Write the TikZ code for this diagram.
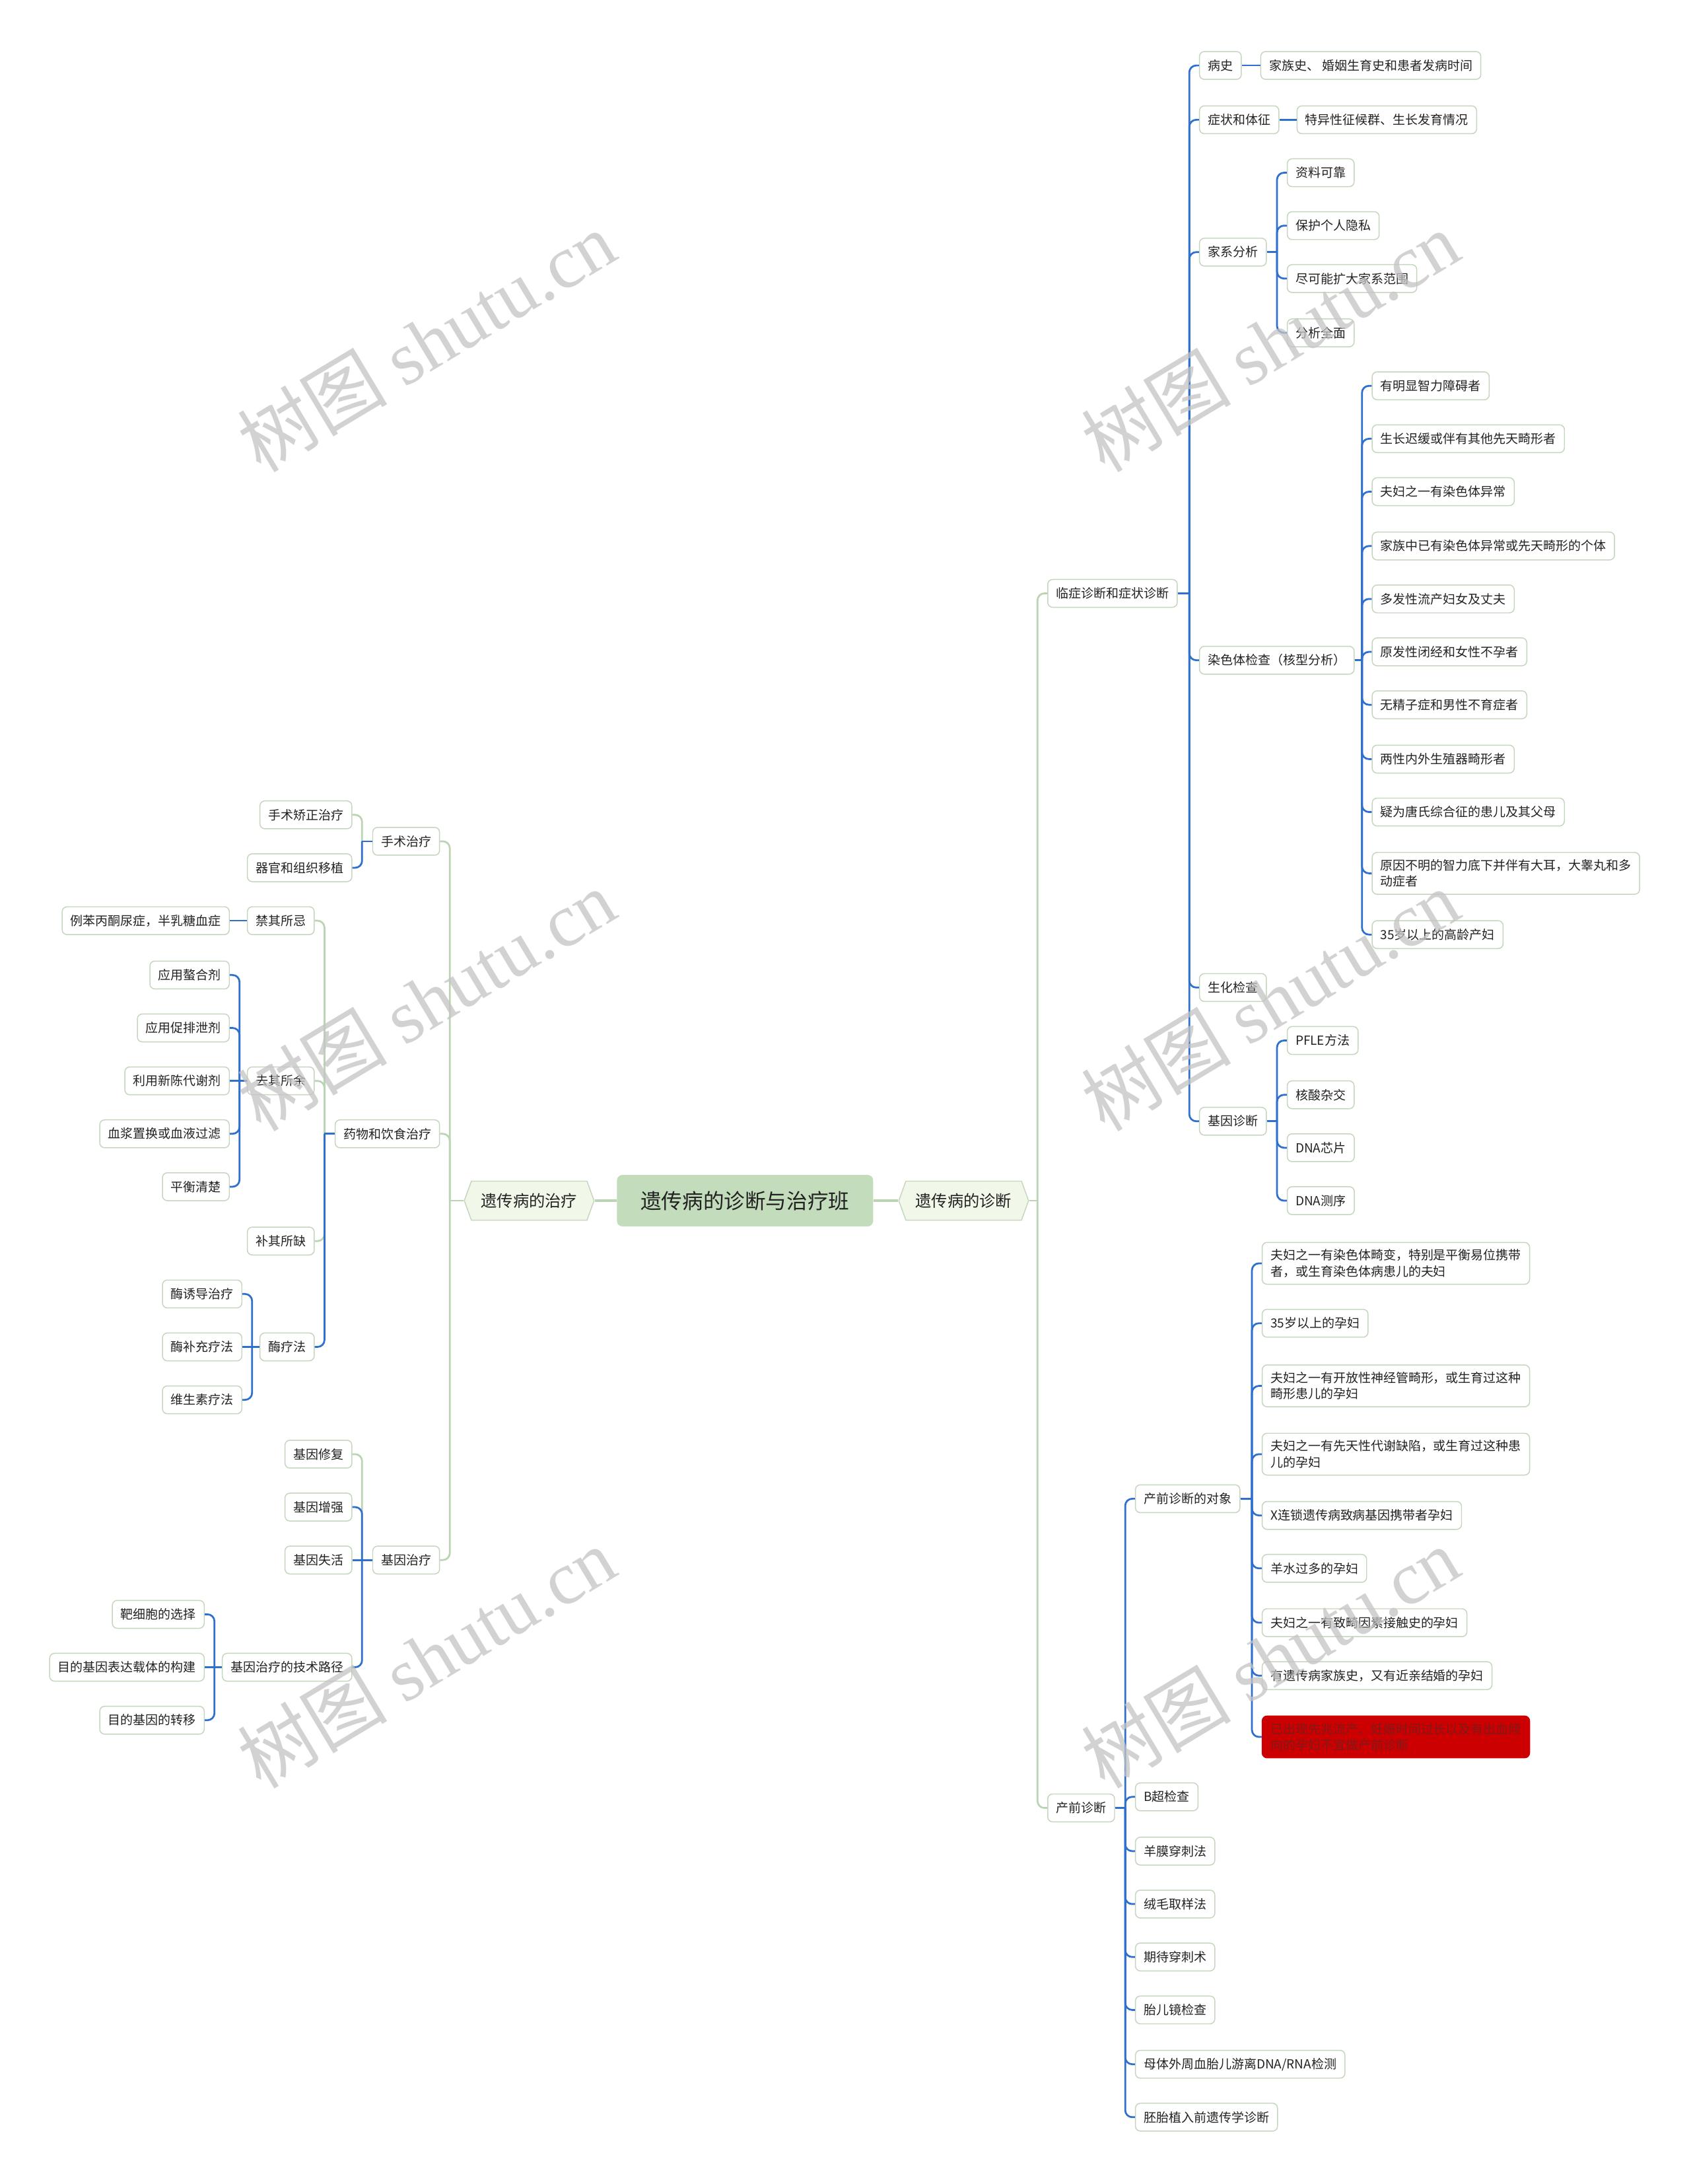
\documentclass[tikz,border=0pt]{standalone}
\usepackage{fontspec}
\setmainfont{Noto Sans CJK SC}
\newfontfamily\wmfont{Liberation Serif}
\usetikzlibrary{shapes.symbols}
\definecolor{cblue}{HTML}{2F6FCE}
\definecolor{cgreen}{HTML}{BBD4B3}
\definecolor{nborder}{HTML}{C5D6BE}
\definecolor{cfill}{HTML}{C3DCBB}
\definecolor{hfill}{HTML}{F1F8EA}
\definecolor{txt}{HTML}{222222}
\definecolor{redfill}{HTML}{CC0000}
\definecolor{redtxt}{HTML}{7D1A1A}
\definecolor{wmgray}{HTML}{C4C4C4}
\newcommand\RB[3]{%
  \path (#3.west) ++(-7,0) coordinate (bus);
  \draw[#1] (#2.east) -- (bus |- #2.east);
  \draw[#1,rounded corners=5pt] (bus |- #2.east) |- (#3.west);}
\newcommand\LB[3]{%
  \path (#3.east) ++(7,0) coordinate (bus);
  \draw[#1] (#2.west) -- (bus |- #2.west);
  \draw[#1,rounded corners=5pt] (bus |- #2.west) |- (#3.east);}
\newcommand\RS[3]{\draw[#1] (#2.east) -- (#3.west);}
\newcommand\LS[3]{\draw[#1] (#2.west) -- (#3.east);}
\begin{document}
\begin{tikzpicture}[x=1pt,y=-1pt,
  box/.style={draw=nborder, fill=white, rounded corners=3.5pt, line width=0.7pt, inner xsep=6pt, inner ysep=0pt, minimum height=20pt, font=\fontsize{9}{11.5}\selectfont, text=txt, align=left},
  tall/.style={box, minimum height=30pt},
  rbox/.style={tall, fill=redfill, draw=redfill, text=redtxt},
  hexa/.style={signal, signal to=west and east, signal pointer angle=140, draw=nborder, fill=hfill, line width=0.7pt, font=\fontsize{11.5}{13}\selectfont, text=txt, minimum height=28pt, inner xsep=7pt, inner ysep=0pt},
  root/.style={fill=cfill, rounded corners=4pt, minimum width=184pt, minimum height=37pt, font=\fontsize{15}{17}\selectfont, text=txt},
  bl/.style={draw=cblue, line width=1.3pt},
  gr/.style={draw=cgreen, line width=1.3pt},
  mainln/.style={draw=cgreen, line width=2.2pt},
  wm/.style={text=wmgray, text opacity=0.75, font=\fontsize{54}{60}\selectfont, rotate=31},
]
\fill[white] (0,0) rectangle (1214,1568);
\useasboundingbox (0,0) rectangle (1214,1568);

% ---- root and level 1
\node[root] (R) at (535,862) {遗传病的诊断与治疗班};
\node[hexa] (D) at (692,862) {遗传病的诊断};
\node[hexa] (T) at (380,862) {遗传病的治疗};

% ---- right side
\node[box,anchor=west] (lc) at (752,426) {临症诊断和症状诊断};
\node[box,anchor=west] (cq) at (752,1298) {产前诊断};

\node[box,anchor=west] (bs) at (861,47) {病史};
\node[box,anchor=west] (bs1) at (905,47) {家族史、 婚姻生育史和患者发病时间};
\node[box,anchor=west] (zz) at (861,86) {症状和体征};
\node[box,anchor=west] (zz1) at (931,86) {特异性征候群、生长发育情况};
\node[box,anchor=west] (jx) at (861,181) {家系分析};
\node[box,anchor=west] (jx1) at (924,124) {资料可靠};
\node[box,anchor=west] (jx2) at (924,162) {保护个人隐私};
\node[box,anchor=west] (jx3) at (924,200) {尽可能扩大家系范围};
\node[box,anchor=west] (jx4) at (924,239) {分析全面};
\node[box,anchor=west] (rs) at (861,474) {染色体检查（核型分析）};
\node[box,anchor=west] (rs1) at (985,277) {有明显智力障碍者};
\node[box,anchor=west] (rs2) at (985,315) {生长迟缓或伴有其他先天畸形者};
\node[box,anchor=west] (rs3) at (985,353) {夫妇之一有染色体异常};
\node[box,anchor=west] (rs4) at (985,392) {家族中已有染色体异常或先天畸形的个体};
\node[box,anchor=west] (rs5) at (985,430) {多发性流产妇女及丈夫};
\node[box,anchor=west] (rs6) at (985,468) {原发性闭经和女性不孕者};
\node[box,anchor=west] (rs7) at (985,506) {无精子症和男性不育症者};
\node[box,anchor=west] (rs8) at (985,545) {两性内外生殖器畸形者};
\node[box,anchor=west] (rs9) at (985,583) {疑为唐氏综合征的患儿及其父母};
\node[tall,anchor=west] (rs10) at (985,627) {原因不明的智力底下并伴有大耳，大睾丸和多\\动症者};
\node[box,anchor=west] (rs11) at (985,671) {35岁以上的高龄产妇};
\node[box,anchor=west] (sh) at (861,709) {生化检查};
\node[box,anchor=west] (jy) at (861,805) {基因诊断};
\node[box,anchor=west] (jy1) at (924,747) {PFLE方法};
\node[box,anchor=west] (jy2) at (924,786) {核酸杂交};
\node[box,anchor=west] (jy3) at (924,824) {DNA芯片};
\node[box,anchor=west] (jy4) at (924,862) {DNA测序};

\node[box,anchor=west] (dx) at (815,1076) {产前诊断的对象};
\node[tall,anchor=west] (dx1) at (906,907) {夫妇之一有染色体畸变，特别是平衡易位携带\\者，或生育染色体病患儿的夫妇};
\node[box,anchor=west] (dx2) at (906,950) {35岁以上的孕妇};
\node[tall,anchor=west] (dx3) at (906,995) {夫妇之一有开放性神经管畸形，或生育过这种\\畸形患儿的孕妇};
\node[tall,anchor=west] (dx4) at (906,1044) {夫妇之一有先天性代谢缺陷，或生育过这种患\\儿的孕妇};
\node[box,anchor=west] (dx5) at (906,1088) {X连锁遗传病致病基因携带者孕妇};
\node[box,anchor=west] (dx6) at (906,1126) {羊水过多的孕妇};
\node[box,anchor=west] (dx7) at (906,1165) {夫妇之一有致畸因素接触史的孕妇};
\node[box,anchor=west] (dx8) at (906,1203) {有遗传病家族史，又有近亲结婚的孕妇};
\node[rbox,anchor=west] (dx9) at (906,1247) {已出现先兆流产、妊娠时间过长以及有出血倾\\向的孕妇不宜做产前诊断};
\node[box,anchor=west] (cq1) at (815,1290) {B超检查};
\node[box,anchor=west] (cq2) at (815,1329) {羊膜穿刺法};
\node[box,anchor=west] (cq3) at (815,1367) {绒毛取样法};
\node[box,anchor=west] (cq4) at (815,1405) {期待穿刺术};
\node[box,anchor=west] (cq5) at (815,1443) {胎儿镜检查};
\node[box,anchor=west] (cq6) at (815,1482) {母体外周血胎儿游离DNA/RNA检测};
\node[box,anchor=west] (cq7) at (815,1520) {胚胎植入前遗传学诊断};

% ---- left side
\node[box,anchor=east] (ss) at (316,604) {手术治疗};
\node[box,anchor=east] (ss1) at (253,585) {手术矫正治疗};
\node[box,anchor=east] (ss2) at (253,623) {器官和组织移植};
\node[box,anchor=east] (yw) at (316,814) {药物和饮食治疗};
\node[box,anchor=east] (jq) at (226,661) {禁其所忌};
\node[box,anchor=east] (jq1) at (165,661) {例苯丙酮尿症，半乳糖血症};
\node[box,anchor=east] (qq) at (226,776) {去其所余};
\node[box,anchor=east] (qq1) at (165,700) {应用螯合剂};
\node[box,anchor=east] (qq2) at (165,738) {应用促排泄剂};
\node[box,anchor=east] (qq3) at (165,776) {利用新陈代谢剂};
\node[box,anchor=east] (qq4) at (165,814) {血浆置换或血液过滤};
\node[box,anchor=east] (qq5) at (165,852) {平衡清楚};
\node[box,anchor=east] (bq) at (226,891) {补其所缺};
\node[box,anchor=east] (ml) at (226,967) {酶疗法};
\node[box,anchor=east] (ml1) at (174,929) {酶诱导治疗};
\node[box,anchor=east] (ml2) at (174,967) {酶补充疗法};
\node[box,anchor=east] (ml3) at (174,1005) {维生素疗法};
\node[box,anchor=east] (jz) at (316,1120) {基因治疗};
\node[box,anchor=east] (jz1) at (253,1044) {基因修复};
\node[box,anchor=east] (jz2) at (253,1082) {基因增强};
\node[box,anchor=east] (jz3) at (253,1120) {基因失活};
\node[box,anchor=east] (lj) at (253,1197) {基因治疗的技术路径};
\node[box,anchor=east] (lj1) at (147,1159) {靶细胞的选择};
\node[box,anchor=east] (lj2) at (147,1197) {目的基因表达载体的构建};
\node[box,anchor=east] (lj3) at (147,1235) {目的基因的转移};

% ---- connectors
\draw[mainln] (R.east) -- (D.west);
\draw[mainln] (R.west) -- (T.east);
\RB{gr}{D}{lc} \RB{gr}{D}{cq}
\LB{gr}{T}{ss} \LB{gr}{T}{yw} \LB{gr}{T}{jz}

\RB{bl}{lc}{bs} \RB{bl}{lc}{zz} \RB{bl}{lc}{jx} \RB{bl}{lc}{rs} \RB{bl}{lc}{sh} \RB{bl}{lc}{jy}
\RS{bl}{bs}{bs1} \RS{bl}{zz}{zz1}
\foreach \c in {jx1,jx2,jx3,jx4} {\RB{bl}{jx}{\c}}
\foreach \c in {rs1,rs2,rs3,rs4,rs5,rs6,rs7,rs8,rs9,rs10,rs11} {\RB{bl}{rs}{\c}}
\foreach \c in {jy1,jy2,jy3,jy4} {\RB{bl}{jy}{\c}}
\RB{bl}{cq}{dx}
\foreach \c in {cq1,cq2,cq3,cq4,cq5,cq6,cq7} {\RB{bl}{cq}{\c}}
\foreach \c in {dx1,dx2,dx3,dx4,dx5,dx6,dx7,dx8,dx9} {\RB{bl}{dx}{\c}}

\LB{gr}{ss}{ss1} \LB{bl}{ss}{ss2}
\LB{gr}{yw}{jq} \LB{gr}{yw}{qq} \LB{gr}{yw}{bq} \LB{bl}{yw}{ml}
\LS{bl}{jq}{jq1}
\foreach \c in {qq1,qq2,qq4,qq5} {\LB{bl}{qq}{\c}}
\LS{bl}{qq}{qq3}
\LB{bl}{ml}{ml1} \LB{bl}{ml}{ml3} \LS{bl}{ml}{ml2}
\LB{gr}{jz}{jz1} \LB{bl}{jz}{jz2} \LB{bl}{jz}{lj} \LS{bl}{jz}{jz3}
\LB{bl}{lj}{lj1} \LB{bl}{lj}{lj3} \LS{bl}{lj}{lj2}

% ---- watermarks
\node[wm] (w1) at (306,245) {树图 {\wmfont shutu.cn}};
\node[wm] (w2) at (912,245) {树图 {\wmfont shutu.cn}};
\node[wm] (w3) at (306,718) {树图 {\wmfont shutu.cn}};
\node[wm] (w4) at (912,718) {树图 {\wmfont shutu.cn}};
\node[wm] (w5) at (306,1190) {树图 {\wmfont shutu.cn}};
\node[wm] (w6) at (912,1190) {树图 {\wmfont shutu.cn}};
\end{tikzpicture}
\end{document}
